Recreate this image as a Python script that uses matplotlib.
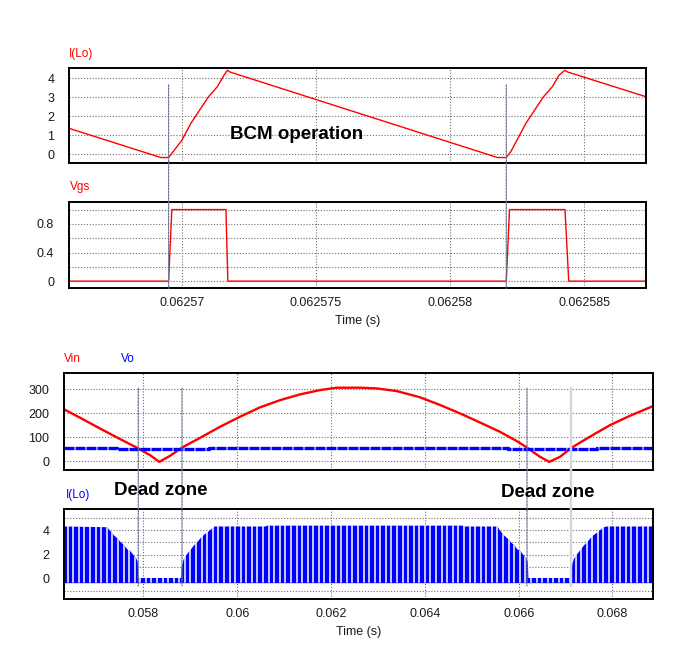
import numpy as np
import matplotlib
matplotlib.use('Agg')
import matplotlib.pyplot as plt
from matplotlib.patches import ConnectionPatch

plt.rcParams['font.family'] = ['Liberation Sans', 'DejaVu Sans']

# ---------------- data ----------------
# Panel 1: inductor current I(Lo), zoomed in (BCM operation)
t_il_zoom = [0.062565776, 0.06256921, 0.06256950, 0.06256967, 0.06257000, 0.06257033,
             0.06257066, 0.06257099, 0.06257132, 0.06257157, 0.06257169, 0.06257179,
             0.06258177, 0.06258210, 0.06258227, 0.06258250, 0.06258283, 0.06258316,
             0.06258349, 0.06258382, 0.06258407, 0.06258429, 0.06258439, 0.062587313]
il_zoom = [1.37, -0.17, -0.17, 0.14, 0.75, 1.63, 2.33, 3.03, 3.56, 4.17, 4.42, 4.33,
           -0.17, -0.17, 0.14, 0.75, 1.63, 2.33, 3.03, 3.56, 4.17, 4.42, 4.33, 3.03]

# Panel 2: gate signal Vgs
t_vgs = [0.062565776, 0.06256950, 0.06256962, 0.06257164, 0.06257171,
         0.06258210, 0.06258222, 0.06258429, 0.06258443, 0.062587313]
vgs = [0, 0, 1, 1, 0, 0, 1, 1, 0, 0]

# Panel 3: Vin (rectified) and Vo
t_vin = [0.056305, 0.056646, 0.057072, 0.057499, 0.057889, 0.058139, 0.058337, 0.058565,
         0.058827, 0.059205, 0.059631, 0.060058, 0.060484, 0.060910, 0.061337, 0.061763,
         0.062119, 0.062616, 0.062972, 0.063399, 0.063896, 0.064322, 0.064748, 0.065175,
         0.065601, 0.065957, 0.066171, 0.066454, 0.066652, 0.066881, 0.067130, 0.067520,
         0.067947, 0.068373, 0.068836]
vin = [217, 182, 137, 93, 54, 26, -2, 23, 58, 98, 144, 186, 225, 255, 279, 297,
       307, 307, 304, 293, 267, 235, 200, 162, 123, 85, 58, 19, -2, 19, 57, 103,
       151, 190, 228]
t_vo = [0.056305, 0.057429, 0.059403, 0.065778, 0.067676, 0.068870]
vo = [57, 50, 57, 50, 57, 57]

# Panel 4: I(Lo) envelope over the line cycle
t_env = [0.056305, 0.057215, 0.057286, 0.057356, 0.057429, 0.057499, 0.057569, 0.057642,
         0.057712, 0.057783, 0.057840, 0.057868, 0.057880, 0.058793, 0.058800, 0.058814,
         0.058849, 0.058921, 0.058991, 0.059062, 0.059134, 0.059205, 0.059275, 0.059348,
         0.059418, 0.059488, 0.059500, 0.060600, 0.060620, 0.064800, 0.064820, 0.065531,
         0.065602, 0.065672, 0.065745, 0.065815, 0.065885, 0.065958, 0.066028, 0.066099,
         0.066156, 0.066184, 0.066196, 0.067109, 0.067116, 0.067130, 0.067165, 0.067237,
         0.067307, 0.067378, 0.067450, 0.067521, 0.067591, 0.067664, 0.067734, 0.067804,
         0.067870, 0.068870]
env = [4.36, 4.30, 3.97, 3.64, 3.39, 3.09, 2.84, 2.48,
       2.31, 1.96, 1.68, 1.40, 0.10, 0.10, 0.90, 1.20,
       1.68, 2.09, 2.42, 2.78, 3.06, 3.39, 3.66, 3.86,
       4.08, 4.30, 4.36, 4.36, 4.43, 4.43, 4.36, 4.36,
       3.97, 3.64, 3.39, 3.09, 2.84, 2.48, 2.31, 1.96,
       1.68, 1.40, 0.10, 0.10, 0.90, 1.20, 1.68, 2.09,
       2.42, 2.78, 3.06, 3.39, 3.66, 3.86, 4.08, 4.30,
       4.36, 4.36]
env_base = -0.33

# cursor times
cursor_zoom = [0.06256950, 0.06258210]
cursor_line = [0.057889, 0.058821, 0.066177]
cursor_line_light = [0.067115]

# ticks
xt_zoom = [0.06257, 0.062575, 0.06258, 0.062585]
xt_zoom_lbl = ['0.06257', '0.062575', '0.06258', '0.062585']
xt_line = [0.058, 0.06, 0.062, 0.064, 0.066, 0.068]
xt_line_lbl = ['0.058', '0.06', '0.062', '0.064', '0.066', '0.068']

# ---------------- figure ----------------
W, H = 696, 646
fig = plt.figure(figsize=(W / 100, H / 100), dpi=100)
fig.patch.set_facecolor('white')


def add_ax(x0, y0, x1, y1):
    return fig.add_axes([x0 / W, 1 - y1 / H, (x1 - x0) / W, (y1 - y0) / H])


RED = '#ff0000'
BLUE = '#0000ff'
GRID = dict(color='#6e6e6e', linestyle=(0, (1, 1.6)), linewidth=0.8)


def style(ax):
    for s in ax.spines.values():
        s.set_linewidth(1.4)
        s.set_color('black')
    ax.tick_params(which='both', length=0, labelsize=9, colors='#1a1a1a')
    ax.tick_params(axis='y', pad=10.5)
    ax.tick_params(axis='x', pad=6.5)
    ax.grid(True, which='both', **GRID)
    ax.set_axisbelow(True)


ax1 = add_ax(68.8, 68.3, 646, 163.3)
ax2 = add_ax(68.8, 201.7, 646, 288.3)
ax3 = add_ax(64, 373.3, 653.3, 470)
ax4 = add_ax(64, 509.3, 653.3, 599)

# Panel 1
ax1.plot(t_il_zoom, il_zoom, color=RED, lw=1.0)
ax1.set_xlim(0.062565776, 0.062587313)
ax1.set_ylim(-0.474, 4.526)
ax1.set_yticks([0, 1, 2, 3, 4])
ax1.set_xticks(xt_zoom)
ax1.set_xticklabels([])
style(ax1)
ax1.text(0.06257179, 0.8, 'BCM operation', fontsize=13.5, fontweight='bold', color='black',
         va='baseline', ha='left')

# Panel 2
ax2.plot(t_vgs, vgs, color=RED, lw=1.0)
ax2.set_xlim(0.062565776, 0.062587313)
ax2.set_ylim(-0.1, 1.11)
ax2.set_yticks([0, 0.4, 0.8])
ax2.set_yticklabels(['0', '0.4', '0.8'])
ax2.set_yticks([0.2, 0.6, 1.0], minor=True)
ax2.set_xticks(xt_zoom)
ax2.set_xticklabels(xt_zoom_lbl)
style(ax2)

# Panel 3
ax3.plot(t_vin, vin, color=RED, lw=1.7)
ax3.step(t_vo, vo, where='post', color=BLUE, lw=2.4, linestyle=(0, (3.0, 0.3)))
ax3.set_xlim(0.056305, 0.068870)
ax3.set_ylim(-36, 367)
ax3.set_yticks([0, 100, 200, 300])
ax3.set_xticks(xt_line)
ax3.set_xticklabels([])
style(ax3)

# Panel 4
poly = ax4.fill_between(t_env, env_base, env, color=BLUE, lw=0, zorder=2)
gap_pos = np.arange(0.056384, 0.068870, 0.000119)
gaps = ax4.vlines(gap_pos, -1.0, 5.0, colors='white', lw=1.1, zorder=3)
gaps.set_clip_path(poly.get_paths()[0], ax4.transData)
ax4.set_xlim(0.056305, 0.068870)
ax4.set_ylim(-1.68, 5.74)
ax4.set_yticks([0, 2, 4])
ax4.set_yticks([-1, 1, 3, 5], minor=True)
ax4.set_xticks(xt_line)
ax4.set_xticklabels(xt_line_lbl)
style(ax4)

# cursors
for t in cursor_zoom:
    con = ConnectionPatch(xyA=(t, 3.65), coordsA=ax1.transData, xyB=(t, -0.1),
                          coordsB=ax2.transData, color='#6a7894', lw=0.9,
                          linestyle=(0, (1.5, 1)))
    fig.add_artist(con)
for t in cursor_line:
    con = ConnectionPatch(xyA=(t, 305), coordsA=ax3.transData, xyB=(t, -0.6),
                          coordsB=ax4.transData, color='#6a7894', lw=0.9,
                          linestyle=(0, (1.5, 1)))
    fig.add_artist(con)
for t in cursor_line_light:
    con = ConnectionPatch(xyA=(t, 305), coordsA=ax3.transData, xyB=(t, -0.6),
                          coordsB=ax4.transData, color='#d4d4dc', lw=1.8,
                          linestyle=(0, (2, 0.6)))
    fig.add_artist(con)

# labels
def ftext(x, y, s, **kw):
    fig.text(x / W, 1 - y / H, s, **kw)

ftext(69, 57, 'I(Lo)', color=RED, fontsize=8.5, va='baseline')
ftext(70, 190, 'Vgs', color=RED, fontsize=8.5, va='baseline')
ftext(64, 362, 'Vin', color=RED, fontsize=8.5, va='baseline')
ftext(121, 362, 'Vo', color=BLUE, fontsize=8.5, va='baseline')
ftext(66, 498, 'I(Lo)', color=BLUE, fontsize=8.5, va='baseline')

ftext(357.4, 324, 'Time (s)', fontsize=9, ha='center', va='baseline', color='#1a1a1a')
ftext(358.6, 635, 'Time (s)', fontsize=9, ha='center', va='baseline', color='#1a1a1a')

ftext(114.5, 495, 'Dead zone', fontsize=13.5, fontweight='bold', va='baseline')
ftext(500.7, 497, 'Dead zone', fontsize=13.5, fontweight='bold', va='baseline')

fig.savefig('out.png', dpi=100)
